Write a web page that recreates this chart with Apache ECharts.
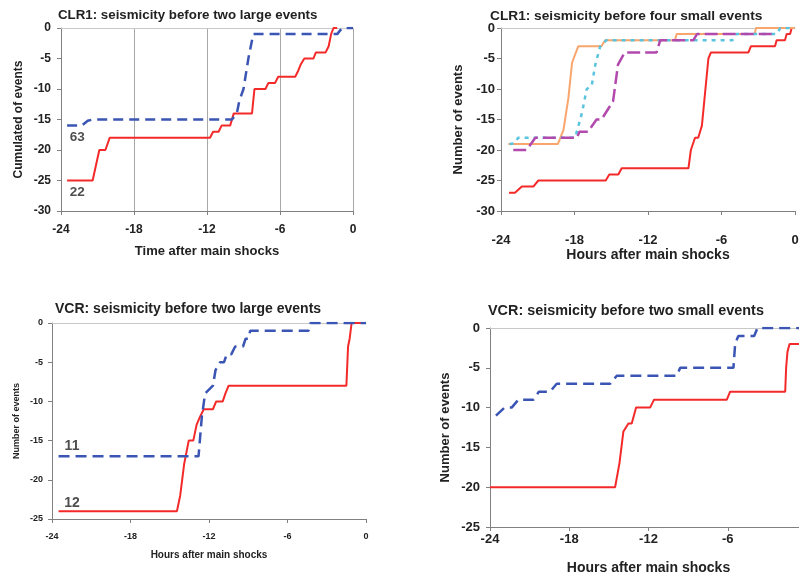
<!DOCTYPE html>
<html><head><meta charset="utf-8">
<script src="https://cdn.jsdelivr.net/npm/echarts@6/dist/echarts.min.js"></script>
<style>html,body{margin:0;padding:0;background:#fff}#c{width:799px;height:578px}</style>
</head><body><div id="c"></div>
<script>
// ---- data (hours after main shock, cumulative events) ----
const titles = [
  'CLR1: seismicity before two large events',
  'CLR1: seismicity before four small events',
  'VCR: seismicity before two large events',
  'VCR: seismicity before two small events'
];
const xNames = ['Time after main shocks','Hours after main shocks','Hours after main shocks','Hours after main shocks'];
const yNames = ['Cumulated of events','Number of events','Number of events','Number of events'];
const xTicks = [-24,-18,-12,-6,0];
const yMins = [-30,-30,-25,-25];

const p1Red = [[-23.5,-25],[-21.4,-25],[-20.85,-20],[-20.35,-20],[-20.0,-18],[-11.75,-18],[-11.5,-17],[-11.05,-17],[-10.8,-16],[-10.1,-16],[-9.8,-14],[-8.3,-14],[-8.1,-10],[-7.2,-10],[-6.95,-9],[-6.4,-9],[-6.15,-8],[-4.75,-8],[-4.5,-7],[-4.3,-6],[-4.0,-5],[-3.25,-5],[-3.05,-4],[-2.25,-4],[-2.0,-3],[-1.8,-1],[-1.6,0],[-1.3,0]];
const p1Blue = [[-23.5,-16],[-22.3,-16],[-21.8,-15.2],[-21.4,-15],[-9.95,-15],[-9.55,-14],[-9.35,-12],[-9.0,-10],[-8.6,-5],[-8.2,-1],[-1.3,-1],[-0.9,0],[0,0]];

const p2Red = [[-23.35,-27],[-22.86,-27],[-22.3,-26],[-21.36,-26],[-20.95,-25],[-15.45,-25],[-15.16,-24],[-14.42,-24],[-14.15,-23],[-8.7,-23],[-8.5,-20],[-8.16,-18],[-7.9,-18],[-7.6,-16],[-7.07,-5],[-6.86,-4],[-3.8,-4],[-3.6,-3],[-1.63,-3],[-1.5,-2],[-0.82,-2],[-0.68,-1],[-0.4,-1],[-0.27,0],[0,0]];
const p2Orange = [[-23.4,-19],[-19.35,-19],[-18.9,-16.7],[-18.5,-11.5],[-18.2,-5.7],[-17.7,-3],[-15.8,-3],[-15.5,-2],[-9.8,-2],[-9.66,-1],[-3.3,-1],[-3.18,0],[0,0]];
const p2Cyan = [[-23.3,-19],[-22.9,-18.9],[-22.6,-18],[-17.95,-18],[-17.4,-14],[-17.0,-10],[-16.6,-9.5],[-16.3,-6],[-15.9,-3],[-15.4,-2],[-5.1,-2],[-4.8,-1],[-1.5,-1],[-1.2,0],[0,0]];
const p2Magenta = [[-23.0,-20],[-21.9,-20],[-21.2,-18],[-17.8,-18],[-17.6,-17],[-16.9,-17],[-16.2,-15],[-15.8,-15],[-14.85,-12],[-14.45,-6],[-13.9,-4],[-11.3,-4],[-11.0,-2],[-8.3,-2],[-8.0,-1],[-1.6,-1]];

const p3Red = [[-23.5,-24],[-14.45,-24],[-14.2,-22],[-13.9,-18],[-13.55,-15],[-13.2,-15],[-12.95,-13],[-12.7,-12],[-12.4,-11],[-11.7,-11],[-11.45,-10],[-10.95,-10],[-10.75,-9],[-10.5,-8],[-1.5,-8],[-1.37,-3],[-1.25,-2],[-1.1,0],[0,0]];
const p3Blue = [[-23.5,-17],[-12.8,-17],[-12.55,-12],[-12.3,-9],[-11.7,-8],[-11.5,-6],[-11.15,-5],[-10.85,-5],[-10.65,-4],[-10.3,-4],[-10.0,-3],[-9.4,-3],[-9.2,-2],[-9.0,-2],[-8.85,-1],[-4.4,-1],[-4.25,0],[0,0]];

const p4Red = [[-24,-20],[-14.53,-20],[-14.2,-17],[-13.9,-13],[-13.52,-12],[-13.27,-12],[-12.94,-10],[-11.88,-10],[-11.58,-9],[-6.07,-9],[-5.82,-8],[-1.65,-8],[-1.58,-5],[-1.48,-3],[-1.32,-2],[0,-2]];
const p4Blue = [[-23.55,-11],[-22.9,-10],[-22.36,-10],[-21.85,-9],[-20.7,-9],[-20.3,-8],[-19.45,-8],[-18.95,-7],[-14.9,-7],[-14.4,-6],[-9.86,-6],[-9.6,-5],[-5.57,-5],[-5.44,-2],[-5.2,-1],[-4.0,-1],[-3.75,0],[0,0]];

const countLabels = [
  {grid:0, text:'63', at:[-22.66,-17.95]},
  {grid:0, text:'22', at:[-22.66,-26.95]},
  {grid:2, text:'11', at:[-22.47,-15.74]},
  {grid:2, text:'12', at:[-22.47,-22.96]}
];

// ---- layout / style ----
const RED='#f42a2a', BLUE='#3a55b4', ORANGE='#f8a56e', CYAN='#5ac4de', MAGENTA='#b24aae';
const FONT='Liberation Sans';
const grids = [
  {left:61, top:28, width:292, height:183, outerBoundsMode:'none', containLabel:false},
  {left:501, top:28, width:294, height:183, outerBoundsMode:'none', containLabel:false},
  {left:52, top:323, width:314, height:196, outerBoundsMode:'none', containLabel:false},
  {left:490, top:328, width:317, height:199, outerBoundsMode:'none', containLabel:false}
];
const tickFont = [12,13,9,13];
const tickMarginX = [13,23,13,6];
const tickMarginY = [10,6,9,10];
const nameFont = [13,14,10,14];
const xNameGap = [34,35,31,34];
const yNameGap = [36,36,31,38];
const titleCfg = [
  {left:58, top:9, size:13.3},
  {left:490, top:9, size:13.7},
  {left:55, top:302, size:14},
  {left:488, top:304, size:14.4}
];

const xAxes=[], yAxes=[];
grids.forEach((g,i)=>{
  xAxes.push({
    type:'value', gridIndex:i, min:-24, max:0, interval:6,
    name:xNames[i], nameLocation:'middle', nameGap:xNameGap[i],
    nameTextStyle:{fontFamily:FONT, fontWeight:'bold', fontSize:nameFont[i], color:'#222'},
    axisLine:{show:true, onZero:false, lineStyle:{color:'#808080', width:1}},
    axisTick:{show:true, length:4, lineStyle:{color:'#808080'}},
    axisLabel:{fontFamily:FONT, fontWeight:'bold', fontSize:tickFont[i], color:'#222', margin:tickMarginX[i]},
    splitLine:{show:i===0, showMinLine:false, showMaxLine:true, lineStyle:{color:'#a8a8a8', width:1}}
  });
  // top border line
  xAxes.push({
    type:'value', gridIndex:i, min:-24, max:0, position:'top',
    axisLine:{show:true, onZero:false, lineStyle:{color:'#c8c8c8', width:1}},
    axisTick:{show:false}, axisLabel:{show:false}, splitLine:{show:false}
  });
  yAxes.push({
    type:'value', gridIndex:i, min:yMins[i], max:0, interval:5,
    name:yNames[i], nameLocation:'middle', nameGap:yNameGap[i],
    nameTextStyle:{fontFamily:FONT, fontWeight:'bold', fontSize:nameFont[i]-1, color:'#222'},
    axisLine:{show:true, onZero:false, lineStyle:{color:'#808080', width:1}},
    axisTick:{show:true, length:4, lineStyle:{color:'#808080'}},
    axisLabel:{fontFamily:FONT, fontWeight:'bold', fontSize:tickFont[i], color:'#222', margin:tickMarginY[i]},
    splitLine:{show:false}
  });
});

function line(gi, data, color, type, width){
  return {type:'line', xAxisIndex:gi*2, yAxisIndex:gi, data:data, symbol:'none', silent:true,
    lineStyle:{color:color, width:width||2, type:type}, z:3};
}
const series = [
  line(0,p1Red,RED,'solid',2),
  line(0,p1Blue,BLUE,[10,6],2.5),
  line(1,p2Red,RED,'solid',2),
  line(1,p2Orange,ORANGE,'solid',2),
  line(1,p2Cyan,CYAN,[4,5],2.5),
  line(1,p2Magenta,MAGENTA,[13,5],2.5),
  line(2,p3Red,RED,'solid',2),
  line(2,p3Blue,BLUE,[11,6],2.5),
  line(3,p4Red,RED,'solid',2),
  line(3,p4Blue,BLUE,[11,6],2.5)
];
// count labels as invisible scatter points with labels
[0,2].forEach(gi=>{
  series.push({
    type:'scatter', xAxisIndex:gi*2, yAxisIndex:gi, symbolSize:0, silent:true,
    data: countLabels.filter(l=>l.grid===gi).map(l=>({value:l.at, name:l.text})),
    label:{show:true, position:'inside', formatter:p=>p.name, fontFamily:FONT, fontWeight:'bold',
      fontSize: gi===0?13.5:14, color:'#222'}
  });
});

const chart = echarts.init(document.getElementById('c'), null, {renderer:'canvas'});
chart.setOption({
  backgroundColor:'#fff',
  animation:false,
  title: titles.map((t,i)=>({text:t, left:titleCfg[i].left, top:titleCfg[i].top, padding:0,
    textStyle:{fontFamily:FONT, fontWeight:'bold', fontSize:titleCfg[i].size, color:'#222'}})),
  grid: grids,
  xAxis: xAxes,
  yAxis: yAxes,
  series: series
});
</script></body></html>
